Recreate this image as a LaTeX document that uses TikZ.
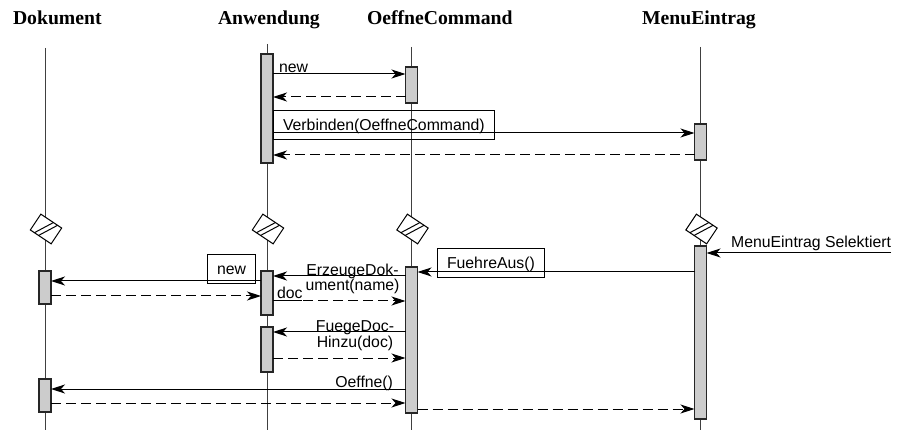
\documentclass[tikz,border=0pt]{standalone}
\usepackage{fontspec}
\setmainfont{Liberation Serif}
\newfontfamily\lblfamily{Liberation Sans}
\usetikzlibrary{arrows.meta}
\newcommand{\titlefont}{\fontsize{19.7}{22}\selectfont\bfseries}
\newcommand{\lblfont}{\lblfamily\fontsize{15.8}{16}\selectfont}

\begin{document}
\begin{tikzpicture}[x=1pt, y=-1pt]
    \tikzstyle{every node} = [inner sep=0pt, outer sep=0pt]
    \tikzstyle{title} = [font=\titlefont, anchor=base west]
    \tikzstyle{lbl} = [font=\lblfont]
    \tikzstyle{lbox} = [lbl, draw, line width=1pt, text height=12pt, text depth=0pt, inner xsep=10pt, inner ysep=8.5pt, anchor=base west]
    \tikzstyle{life} = [draw=black!75, line width=1pt]
    \tikzstyle{act} = [draw=black!85, fill=gray!40, line width=1.3pt, minimum width=12pt, anchor=north]
    \tikzstyle{msg} = [line width=1pt, -{Stealth[length=14pt, width=9pt, inset=4pt]}]
    \tikzstyle{ret} = [msg, dash pattern=on 10pt off 5pt]
    \tikzset{brk/.pic={
        \draw[line width=1pt, fill=white] (-12.5,-9.5) rectangle (12.5,9.5);
        \draw[line width=1pt] (-7.6,9.5) -- (2.6,-9.5) (-2.6,9.5) -- (7.6,-9.5);
    }}
    \useasboundingbox (0,0) rectangle (897,430);

    \node[title] (dok) at (13,25) {Dokument};
    \node[title] (anw) at (218,25) {Anwendung};
    \node[title] (oec) at (367,25) {OeffneCommand};
    \node[title] (men) at (642,25) {MenuEintrag};

    \foreach \n/\x/\t in {d/45/48, a/267/44, o/411.5/47, m/700.5/47} {
        \coordinate (\n-top) at (\x,\t);
        \coordinate (\n-bot) at (\x,430);
        \draw[life] (\n-top) -- (\n-bot);
        \pic[rotate=-33.7] at (\x+1,229) {brk};
    }

    \node[act, minimum height=109pt] (aA1) at (a-top |- 0,54) {};
    \node[act, minimum height=36pt] (oA1) at (o-top |- 0,67) {};
    \node[act, minimum height=36pt] (mA1) at (m-top |- 0,124) {};
    \node[act, minimum height=33pt] (dA1) at (d-top |- 0,271) {};
    \node[act, minimum height=33pt] (dA2) at (d-top |- 0,379) {};
    \node[act, minimum height=44pt] (aA2) at (a-top |- 0,271) {};
    \node[act, minimum height=45pt] (aA3) at (a-top |- 0,327) {};
    \node[act, minimum height=146pt] (oA2) at (o-top |- 0,267) {};
    \node[act, minimum height=173pt] (mA2) at (m-top |- 0,246) {};
    \coordinate (sel) at (891,253);

    \draw[msg] (aA1.east |- 0,74) -- (oA1.west |- 0,74);
    \draw[ret] (oA1.west |- 0,97) -- (aA1.east |- 0,97);
    \draw[msg] (aA1.east |- 0,133) -- (mA1.west |- 0,133);
    \draw[ret] (mA1.west |- 0,155) -- (aA1.east |- 0,155);
    \draw[msg] (sel) -- (mA2.east |- sel);
    \draw[msg] (mA2.west |- 0,272) -- (oA2.east |- 0,272);
    \draw[msg] (oA2.west |- 0,276) -- (aA2.east |- 0,276);
    \draw[msg] (aA2.west |- 0,281) -- (dA1.east |- 0,281);
    \draw[ret] (dA1.east |- 0,296) -- (aA2.west |- 0,296);
    \draw[ret] (aA2.east |- 0,301) -- (oA2.west |- 0,301);
    \draw[msg] (oA2.west |- 0,332) -- (aA3.east |- 0,332);
    \draw[ret] (aA3.east |- 0,358) -- (oA2.west |- 0,358);
    \draw[msg] (oA2.west |- 0,389) -- (dA2.east |- 0,389);
    \draw[ret] (dA2.east |- 0,403) -- (oA2.west |- 0,403);
    \draw[ret] (oA2.east |- 0,409) -- (mA2.west |- 0,409);

    \node[lbl, anchor=base west] (lNew) at (279,73) {new};
    \node[lbox, minimum width=221pt] (lVerb) at (273,131) {Verbinden(OeffneCommand)};
    \node[lbl, anchor=base east] (lSel) at (891,248) {MenuEintrag Selektiert};
    \node[lbox] (lFuehre) at (437,269) {FuehreAus()};
    \node[lbl, align=center, anchor=base] (lErz) at (352.5,291) {ErzeugeDok-\\ument(name)};
    \node[lbox] (lNew2) at (207,275) {new};
    \node[lbl, anchor=base west] (lDoc) at (277,298.5) {\underline{doc}};
    \node[lbl, align=center, anchor=base] (lFuege) at (355,348) {FuegeDoc-\\Hinzu(doc)};
    \node[lbl, anchor=base east] (lOeff) at (393,387) {Oeffne()};
\end{tikzpicture}
\end{document}
